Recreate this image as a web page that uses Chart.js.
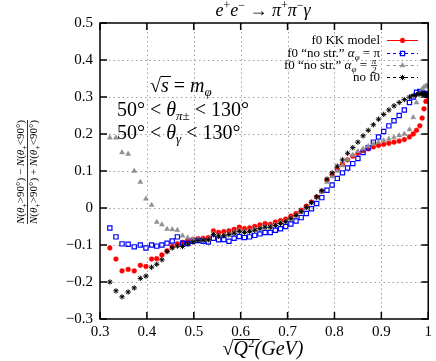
<!DOCTYPE html>
<html lang="en">
<head>
<meta charset="UTF-8">
<title>Forward-backward asymmetry</title>
<script src="https://cdn.jsdelivr.net/npm/chart.js@4.4.1/dist/chart.umd.min.js"></script>
<style>
  html, body { margin: 0; padding: 0; background: #fff; }
  #wrap { width: 436px; height: 361px; }
</style>
</head>
<body>
<div id="wrap"><canvas id="chart" width="436" height="361"></canvas></div>
<script>
// sqrt(Q^2) in GeV
const sqrtQ2 = [0.321,0.334,0.347,0.360,0.373,0.386,0.398,0.410,0.421,0.432,
  0.443,0.454,0.465,0.476,0.487,0.498,0.509,0.520,0.531,0.542,
  0.553,0.564,0.575,0.586,0.597,0.608,0.619,0.630,0.641,0.652,
  0.663,0.674,0.685,0.696,0.707,0.718,0.729,0.740,0.751,0.762,
  0.773,0.784,0.795,0.806,0.817,0.828,0.839,0.850,0.861,0.872,
  0.883,0.894,0.905,0.916,0.927,0.938,0.949,0.960,0.968,0.975,
  0.982,0.987,0.991,0.995,0.998];

const f0KK = [-0.108,-0.138,-0.170,-0.166,-0.170,-0.155,-0.158,-0.138,-0.137,-0.127,
  -0.116,-0.104,-0.097,-0.093,-0.088,-0.085,-0.083,-0.082,-0.080,-0.062,
  -0.066,-0.064,-0.062,-0.058,-0.052,-0.056,-0.054,-0.050,-0.046,-0.042,
  -0.044,-0.038,-0.034,-0.030,-0.022,-0.015,-0.006,0.005,0.016,0.030,
  0.045,0.075,0.090,0.105,0.118,0.130,0.140,0.148,0.155,0.160,
  0.165,0.169,0.172,0.175,0.178,0.181,0.185,0.192,0.200,0.210,
  0.222,0.243,0.268,0.288,0.302];

const noStrPi = [-0.054,-0.078,-0.097,-0.098,-0.105,-0.100,-0.108,-0.100,-0.103,-0.100,
  -0.095,-0.089,-0.078,-0.095,-0.096,-0.090,-0.088,-0.090,-0.092,-0.082,
  -0.086,-0.085,-0.090,-0.082,-0.077,-0.080,-0.078,-0.074,-0.070,-0.066,
  -0.066,-0.060,-0.056,-0.050,-0.043,-0.035,-0.026,-0.015,-0.002,0.012,
  0.028,0.048,0.062,0.080,0.095,0.108,0.120,0.134,0.150,0.163,
  0.178,0.192,0.207,0.222,0.236,0.250,0.265,0.285,0.300,0.313,
  0.315,0.312,0.310,0.308,0.306];

const noStrHalfPi = [0.190,0.190,0.150,0.146,0.100,0.070,0.025,0.008,-0.038,-0.045,
  -0.057,-0.058,-0.060,-0.075,-0.080,-0.085,-0.085,-0.086,-0.085,-0.070,
  -0.075,-0.074,-0.071,-0.066,-0.060,-0.064,-0.062,-0.058,-0.054,-0.050,
  -0.050,-0.045,-0.040,-0.036,-0.028,-0.020,-0.010,0.000,0.013,0.028,
  0.043,0.070,0.085,0.100,0.115,0.130,0.143,0.153,0.160,0.167,
  0.173,0.178,0.183,0.187,0.191,0.196,0.200,0.212,0.245,0.285,
  0.310,0.322,0.327,0.330,0.330];

const noF0 = [-0.200,-0.224,-0.240,-0.227,-0.216,-0.190,-0.184,-0.160,-0.152,-0.140,
  -0.118,-0.108,-0.103,-0.104,-0.097,-0.092,-0.088,-0.087,-0.086,-0.072,
  -0.076,-0.075,-0.072,-0.068,-0.063,-0.066,-0.064,-0.060,-0.056,-0.052,
  -0.052,-0.047,-0.042,-0.037,-0.029,-0.020,-0.010,0.002,0.015,0.030,
  0.047,0.078,0.095,0.113,0.130,0.148,0.163,0.178,0.195,0.210,
  0.225,0.240,0.253,0.265,0.276,0.285,0.293,0.300,0.304,0.306,
  0.308,0.309,0.309,0.308,0.307];

const xTicks = [0.3, 0.4, 0.5, 0.6, 0.7, 0.8, 0.9, 1.0];
const yTicks = [-0.3, -0.2, -0.1, 0, 0.1, 0.2, 0.3, 0.4, 0.5];

const SERIF = "'Liberation Serif', 'DejaVu Serif', serif";

function pts(ys) {
  return sqrtQ2.map((x, i) => ({ x: x, y: ys[i] }));
}

// draws a row of text pieces; each piece: [text, size, italic, dy]
function rich(ctx, parts, x, y, align) {
  let w = 0;
  parts.forEach(p => {
    ctx.font = (p[2] ? 'italic ' : '') + p[1] + 'px ' + SERIF;
    p.w = ctx.measureText(p[0]).width;
    w += p.w;
  });
  let cx = align === 'right' ? x - w : align === 'center' ? x - w / 2 : x;
  ctx.textAlign = 'left';
  parts.forEach(p => {
    ctx.font = (p[2] ? 'italic ' : '') + p[1] + 'px ' + SERIF;
    ctx.fillText(p[0], cx, y + (p[3] || 0));
    cx += p.w;
  });
  return w;
}

const decor = {
  id: 'decor',
  beforeDatasetsDraw(chart) {
    const { ctx, chartArea: a, scales: { x, y } } = chart;
    ctx.save();
    ctx.strokeStyle = '#a0a0a0';
    ctx.lineWidth = 1;
    ctx.setLineDash([1.5, 3]);
    xTicks.slice(1, -1).forEach(v => {
      const px = Math.round(x.getPixelForValue(v)) + 0.5;
      ctx.beginPath(); ctx.moveTo(px, a.top); ctx.lineTo(px, a.bottom); ctx.stroke();
    });
    yTicks.slice(1, -1).forEach(v => {
      const py = Math.round(y.getPixelForValue(v)) + 0.5;
      ctx.beginPath(); ctx.moveTo(a.left, py); ctx.lineTo(a.right, py); ctx.stroke();
    });
    ctx.restore();
  },
  afterDatasetsDraw(chart) {
    const { ctx, chartArea: a, scales: { x, y } } = chart;
    ctx.save();
    ctx.strokeStyle = '#000';
    ctx.lineWidth = 1.5;
    ctx.setLineDash([]);
    const tl = 7;
    xTicks.forEach(v => {
      const px = x.getPixelForValue(v);
      ctx.beginPath();
      ctx.moveTo(px, a.bottom); ctx.lineTo(px, a.bottom - tl);
      ctx.moveTo(px, a.top); ctx.lineTo(px, a.top + tl);
      ctx.stroke();
    });
    yTicks.forEach(v => {
      const py = y.getPixelForValue(v);
      ctx.beginPath();
      ctx.moveTo(a.left, py); ctx.lineTo(a.left + tl, py);
      ctx.moveTo(a.right, py); ctx.lineTo(a.right - tl, py);
      ctx.stroke();
    });
    ctx.strokeRect(a.left, a.top, a.right - a.left, a.bottom - a.top);

    ctx.fillStyle = '#000';
    ctx.textBaseline = 'alphabetic';

    // title
    rich(ctx, [['e', 18, true], ['+', 12, false, -7], ['e', 18, true], ['\u2212', 12, false, -7],
      [' \u2192 ', 18, false], ['\u03c0', 18, true], ['+', 12, false, -7], ['\u03c0', 18, true],
      ['\u2212', 12, false, -7], ['\u03b3', 18, true]], 263, 16, 'center');

    // x axis title
    const xw = rich(ctx, [['\u221a', 20, false], ['Q', 20, true], ['2', 13, false, -8],
      ['(GeV)', 20, true]], 263, 355, 'center');
    ctx.lineWidth = 1;
    const x0 = 263 - xw / 2 + 11;
    ctx.beginPath(); ctx.moveTo(x0, 339.5); ctx.lineTo(x0 + 26, 339.5); ctx.stroke();

    // annotations
    rich(ctx, [['\u221a', 20, false], ['s', 20, true], [' = ', 20, false], ['m', 20, true],
      ['\u03c6', 13, true, 4]], 150, 92, 'left');
    ctx.beginPath(); ctx.moveTo(161, 76.5); ctx.lineTo(171, 76.5); ctx.stroke();
    rich(ctx, [['50\u00b0 < ', 20, false], ['\u03b8', 20, true], ['\u03c0\u00b1', 13, true, 4],
      [' < 130\u00b0', 20, false]], 117, 116, 'left');
    rich(ctx, [['50\u00b0 < ', 20, false], ['\u03b8', 20, true], ['\u03b3', 13, true, 4],
      [' < 130\u00b0', 20, false]], 117, 139, 'left');

    // legend
    const tx = 380, l0 = 387, l1 = 418;
    const rows = [
      { y: 40, parts: [['f0 KK model', 13, false]], color: '#ff0000', fill: '#ff0000', dash: [], style: 'circle' },
      { y: 53, parts: [['f0 \u201cno str.\u201d ', 13, false], ['\u03b1', 13, true], ['\u03c6', 9, true, 3],
        [' = \u03c0', 13, false]], color: '#0000ff', fill: 'rgba(0,0,0,0)', dash: [3, 3], style: 'rect' },
      { y: 65, parts: [['f0 \u201cno str.\u201d ', 13, false], ['\u03b1', 13, true], ['\u03c6', 9, true, 3],
        [' = ', 13, false], ['\u00a0\u00a0\u00a0', 13, false]], color: '#909090', fill: '#909090', dash: [3, 3], style: 'triangle' },
      { y: 77, parts: [['no f0', 13, false]], color: '#000', fill: '#000', dash: [3, 3], style: 'star' }
    ];
    rows.forEach((r, i) => {
      ctx.fillStyle = '#000';
      ctx.strokeStyle = '#000';
      rich(ctx, r.parts, tx, r.y + 4, 'right');
      if (i === 2) {
        ctx.font = 'italic 9px ' + SERIF;
        ctx.textAlign = 'center';
        ctx.fillText('\u03c0', tx - 6, r.y - 1);
        ctx.fillText('2', tx - 6, r.y + 8);
        ctx.lineWidth = 0.7;
        ctx.beginPath(); ctx.moveTo(tx - 9, r.y + 0.5); ctx.lineTo(tx - 3, r.y + 0.5); ctx.stroke();
      }
      ctx.strokeStyle = r.color;
      ctx.lineWidth = 1;
      ctx.setLineDash(r.dash);
      ctx.beginPath(); ctx.moveTo(l0, r.y + 0.5); ctx.lineTo(l1, r.y + 0.5); ctx.stroke();
      ctx.setLineDash([]);
      const ds = chart.data.datasets[i];
      ctx.fillStyle = r.fill;
      ctx.lineWidth = ds.borderWidth;
      Chart.helpers.drawPoint(ctx, {
        pointStyle: r.style, radius: ds.pointRadius, borderWidth: ds.borderWidth, rotation: 0
      }, (l0 + l1) / 2, r.y + 0.5);
    });

    // y axis title (rotated fraction)
    ctx.save();
    ctx.translate(27, 172);
    ctx.rotate(-Math.PI / 2);
    ctx.fillStyle = '#000';
    const num = [['N', 11, true], ['(', 11, false], ['\u03b8', 11, true], ['+', 8, false, 3],
      ['>90\u00b0) \u2212 ', 11, false], ['N', 11, true], ['(', 11, false], ['\u03b8', 11, true],
      ['+', 8, false, 3], ['<90\u00b0)', 11, false]];
    const den = [['N', 11, true], ['(', 11, false], ['\u03b8', 11, true], ['+', 8, false, 3],
      ['>90\u00b0) + ', 11, false], ['N', 11, true], ['(', 11, false], ['\u03b8', 11, true],
      ['+', 8, false, 3], ['<90\u00b0)', 11, false]];
    const fw = rich(ctx, num, 0, -3, 'center');
    rich(ctx, den, 0, 10, 'center');
    ctx.lineWidth = 0.8;
    ctx.strokeStyle = '#000';
    ctx.beginPath(); ctx.moveTo(-fw / 2, 0.5); ctx.lineTo(fw / 2, 0.5); ctx.stroke();
    ctx.restore();

    ctx.restore();
  }
};

new Chart(document.getElementById('chart'), {
  type: 'scatter',
  data: {
    datasets: [
      { label: 'f0 KK model', data: pts(f0KK), order: 4,
        pointStyle: 'circle', pointRadius: 2.4, backgroundColor: '#ff0000', borderColor: '#ff0000', borderWidth: 0.5 },
      { label: 'f0 "no str." alpha = pi', data: pts(noStrPi), order: 3,
        pointStyle: 'rect', pointRadius: 3, backgroundColor: 'rgba(0,0,0,0)', borderColor: '#0000ff', borderWidth: 1.2 },
      { label: 'f0 "no str." alpha = pi/2', data: pts(noStrHalfPi), order: 2,
        pointStyle: 'triangle', pointRadius: 2.9, backgroundColor: '#909090', borderColor: '#909090', borderWidth: 0.5 },
      { label: 'no f0', data: pts(noF0), order: 1,
        pointStyle: 'star', pointRadius: 2.7, backgroundColor: '#000', borderColor: '#000', borderWidth: 1 }
    ]
  },
  options: {
    responsive: false,
    animation: false,
    events: [],
    layout: { padding: { top: 23, right: 5, left: 0, bottom: 0 } },
    plugins: { legend: { display: false }, tooltip: { enabled: false } },
    scales: {
      x: {
        type: 'linear', min: 0.3, max: 1.0,
        afterBuildTicks: s => { s.ticks = xTicks.map(v => ({ value: v })); },
        afterFit: s => { s.height = 42; },
        grid: { display: false, drawTicks: false },
        border: { display: false },
        ticks: {
          padding: 4, color: '#000', font: { family: SERIF, size: 15 },
          callback: v => v === 1 ? '1' : v.toFixed(1)
        }
      },
      y: {
        type: 'linear', min: -0.3, max: 0.5,
        afterBuildTicks: s => { s.ticks = yTicks.map(v => ({ value: v })); },
        afterFit: s => { s.width = 100; },
        grid: { display: false, drawTicks: false },
        border: { display: false },
        ticks: {
          padding: 7, color: '#000', font: { family: SERIF, size: 15 },
          callback: v => v === 0 ? '0' : v.toFixed(1).replace('-', '\u2212')
        }
      }
    }
  },
  plugins: [decor]
});
</script>
</body>
</html>
